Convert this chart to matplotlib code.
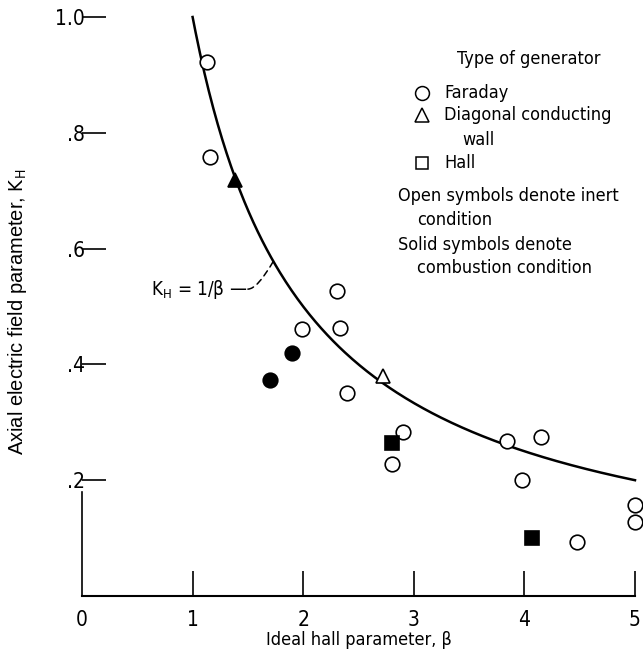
import matplotlib
matplotlib.use("Agg")
import matplotlib.pyplot as plt
import numpy as np

plt.rcParams['font.family'] = ['DejaVu Sans']
plt.rcParams['font.stretch'] = 'condensed'
plt.rcParams['mathtext.fontset'] = 'custom'
plt.rcParams['mathtext.rm'] = 'DejaVu Sans:stretch=condensed'
plt.rcParams['mathtext.it'] = 'DejaVu Sans:stretch=condensed'

# Data (beta, K_H)
faraday_open_x = [1.13, 1.157, 1.99, 2.31, 2.33, 2.40, 2.90, 2.80, 3.84, 4.15, 3.98, 4.48, 5.0, 5.0]
faraday_open_y = [0.922, 0.759, 0.461, 0.527, 0.463, 0.351, 0.283, 0.228, 0.268, 0.274, 0.200, 0.094, 0.157, 0.128]
faraday_solid_x = [1.90, 1.70]
faraday_solid_y = [0.420, 0.373]
diag_open_x = [2.72]
diag_open_y = [0.380]
diag_solid_x = [1.38]
diag_solid_y = [0.718]
hall_solid_x = [2.80, 4.07]
hall_solid_y = [0.264, 0.100]

xticks = [0, 1, 2, 3, 4, 5]
xticklabels = ['0', '1', '2', '3', '4', '5']
yticks = [0.2, 0.4, 0.6, 0.8, 1.0]
yticklabels = ['.2', '.4', '.6', '.8', '1.0']

fig = plt.figure(figsize=(6.43, 6.57), dpi=100)
ax = fig.add_axes([82/643, 1-596/657, (635-82)/643, (596-17)/657])
ax.set_xlim(0, 5.0)
ax.set_ylim(0, 1.0)

beta = np.linspace(1.0, 5.0, 300)
ax.plot(beta, 1.0/beta, color='black', lw=1.8, clip_on=False, zorder=2)

ms = 10.5
kw = dict(linestyle='none', markersize=ms, markeredgewidth=1.2, markeredgecolor='black', clip_on=False, zorder=3)
ax.plot(faraday_open_x, faraday_open_y, marker='o', markerfacecolor='white', **kw)
ax.plot(faraday_solid_x, faraday_solid_y, marker='o', markerfacecolor='black', **kw)
ax.plot(diag_open_x, diag_open_y, marker='^', markerfacecolor='white', **kw)
ax.plot(diag_solid_x, diag_solid_y, marker='^', markerfacecolor='black', **kw)
ax.plot(hall_solid_x, hall_solid_y, marker='s', markerfacecolor='black', **kw)

for s in ['top', 'right']:
    ax.spines[s].set_visible(False)
ax.spines['left'].set_bounds(0, 0.18)
ax.spines['bottom'].set_bounds(0, 5)
ax.spines['left'].set_linewidth(1.2)
ax.spines['bottom'].set_linewidth(1.5)

ax.set_xticks(xticks)
ax.set_xticklabels(xticklabels)
ax.set_yticks(yticks)
ax.set_yticklabels(yticklabels)
ax.tick_params(axis='x', direction='in', length=18, width=1.2, pad=10, labelsize=15)
ax.tick_params(axis='y', direction='in', length=17, width=1.2, pad=-2, labelsize=15)
ax.xaxis.get_major_ticks()[0].tick1line.set_visible(False)

ax.set_xlabel('Ideal hall parameter, β', fontsize=13, labelpad=1)
ax.set_ylabel(r'Axial electric field parameter, $\mathrm{K_H}$', fontsize=14.5,
              family=['Liberation Sans', 'DejaVu Sans'], stretch='normal')
ax.yaxis.set_label_coords(-0.095, 0.49)

# Curve label with dashed leader
ax.annotate('', xy=(1.73, 1/1.73), xytext=(1.50, 0.53),
            arrowprops=dict(arrowstyle='-', linestyle=(0, (4, 3)), lw=1.1, color='black',
                            connectionstyle='angle3,angleA=0,angleB=60', shrinkA=0, shrinkB=0))
ax.text(1.49, 0.53, r'$\mathrm{K_H}$ = 1/β —', fontsize=13.5, ha='right', va='center')

# Legend block
fs = 13
ax.text(0.678, 0.927, 'Type of generator', transform=ax.transAxes, fontsize=fs, va='center')
ax.plot([0.6155], [0.868], transform=ax.transAxes, marker='o', markerfacecolor='white',
        markeredgecolor='black', markersize=10, markeredgewidth=1.1, clip_on=False)
ax.text(0.655, 0.868, 'Faraday', transform=ax.transAxes, fontsize=fs, va='center')
ax.plot([0.6155], [0.830], transform=ax.transAxes, marker='^', markerfacecolor='white',
        markeredgecolor='black', markersize=10, markeredgewidth=1.1, clip_on=False)
ax.text(0.655, 0.830, 'Diagonal conducting', transform=ax.transAxes, fontsize=fs, va='center')
ax.text(0.687, 0.787, 'wall', transform=ax.transAxes, fontsize=fs, va='center')
ax.plot([0.6155], [0.747], transform=ax.transAxes, marker='s', markerfacecolor='white',
        markeredgecolor='black', markersize=9, markeredgewidth=1.1, clip_on=False)
ax.text(0.655, 0.747, 'Hall', transform=ax.transAxes, fontsize=fs, va='center')
ax.text(0.572, 0.690, 'Open symbols denote inert', transform=ax.transAxes, fontsize=fs, va='center')
ax.text(0.606, 0.649, 'condition', transform=ax.transAxes, fontsize=fs, va='center')
ax.text(0.572, 0.607, 'Solid symbols denote', transform=ax.transAxes, fontsize=fs, va='center')
ax.text(0.606, 0.566, 'combustion condition', transform=ax.transAxes, fontsize=fs, va='center')

fig.savefig('out.png', dpi=100)
